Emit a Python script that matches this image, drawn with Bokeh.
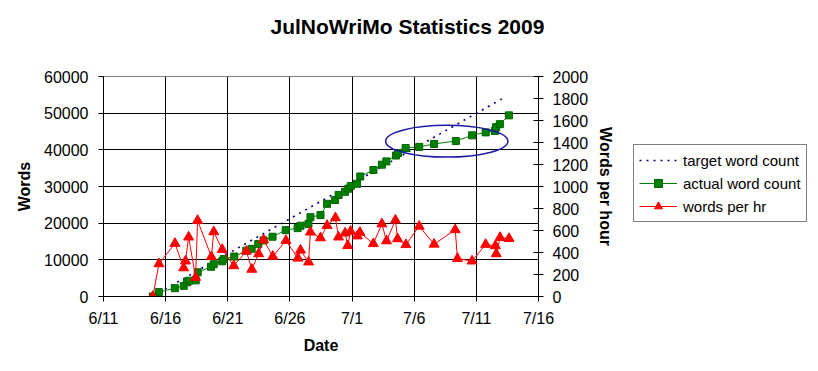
import pandas as pd
from bokeh.plotting import figure
from bokeh.layouts import row
from bokeh.models import (LinearAxis, Range1d, FixedTicker, SingleIntervalTicker,
                          Legend, LegendItem, NumeralTickFormatter, Title)
from bokeh.embed import file_html
from bokeh.resources import INLINE

YEAR = "2009-"

# ---------------- data ----------------
x_tick_labels = ["6/11", "6/16", "6/21", "6/26", "7/1", "7/6", "7/11", "7/16"]

actual_dates = ["06-14 23:17", "06-15 10:48", "06-16 17:46", "06-17 11:02", "06-17 17:31",
                "06-17 21:22", "06-18 10:05", "06-18 13:55", "06-19 15:36", "06-19 20:53",
                "06-20 13:12", "06-20 16:05", "06-21 12:29", "06-22 11:46", "06-22 22:05",
                "06-23 10:48", "06-23 21:07", "06-24 14:24", "06-25 15:50", "06-26 14:53",
                "06-26 20:24", "06-27 11:46", "06-27 15:36", "06-28 11:02", "06-28 23:46",
                "06-29 15:07", "06-29 22:05", "06-30 10:34", "06-30 16:48", "06-30 21:36",
                "07-01 09:36", "07-01 15:50", "07-02 17:17", "07-03 09:36", "07-03 18:14",
                "07-04 12:43", "07-04 16:48", "07-05 07:26", "07-06 09:36", "07-07 14:24",
                "07-09 08:24", "07-10 15:50", "07-11 18:00", "07-12 11:46", "07-12 14:10",
                "07-12 21:22", "07-13 14:53"]
actual_words = [0, 1200, 2270, 2900, 3900,
                4300, 4400, 6600, 8100, 8800,
                9600, 10200, 10900, 12500, 13000,
                14300, 15300, 16300, 18100, 18650,
                19300, 19800, 21640, 22200, 25270,
                26300, 27700, 28550, 29400, 30150,
                30730, 32730, 34500, 35950, 36850,
                38450, 39100, 40500, 40800, 41600,
                42400, 43950, 44760, 45150, 46180,
                47000, 49400]

wph_dates = ["06-14 23:17", "06-15 11:02", "06-16 18:00", "06-17 10:48", "06-17 14:24",
             "06-17 20:24", "06-18 09:50", "06-18 13:41", "06-19 16:19", "06-19 20:53",
             "06-20 13:12", "06-21 11:31", "06-22 12:00", "06-22 22:19", "06-23 11:31",
             "06-23 21:07", "06-24 14:53", "06-25 16:19", "06-26 15:22", "06-26 20:24",
             "06-27 12:00", "06-27 15:36", "06-28 11:02", "06-28 23:46", "06-29 15:50",
             "06-29 21:50", "06-30 10:34", "06-30 15:36", "06-30 21:07", "07-01 10:05",
             "07-01 15:07", "07-02 17:02", "07-03 09:36", "07-03 18:29", "07-04 11:46",
             "07-04 15:50", "07-05 07:55", "07-06 09:36", "07-07 14:24", "07-09 07:12",
             "07-09 11:31", "07-10 15:36", "07-11 18:00", "07-12 12:43", "07-12 14:24",
             "07-12 21:50", "07-13 15:07"]
wph_values = [0, 297, 482, 260, 322,
              540, 173, 691, 362, 588,
              427, 279, 412, 247, 388,
              515, 365, 509, 348, 421,
              313, 585, 533, 645, 715,
              540, 576, 462, 592, 550,
              582, 480, 660, 505, 694,
              524, 471, 638, 475, 607,
              345, 322, 473, 461, 388,
              536, 527]

target_dates = ["06-15 22:34", "06-29 07:26", "07-13 06:00"]
target_words = [2000, 27540, 54270]

series_labels = ["target word count", "actual word count", "words per hr"]

# highlight ellipse (annotation drawn on the chart)
ellipse_center_date = "07-08 14:53"
ellipse_center_words = 42350
ellipse_width_days = 9.84
ellipse_height_words = 8650


def to_dt(lst):
    return pd.to_datetime([YEAR + s for s in lst], format="%Y-%m-%d %H:%M")


tick_dts = pd.to_datetime(["2009/" + t for t in x_tick_labels], format="%Y/%m/%d")
tick_ms = [float(t.value // 10**6) for t in tick_dts]

FONT = "Liberation Sans"
C_TARGET, C_ACT, C_ACT_EDGE, C_WPH = "#000080", "#008000", "#006400", "#FF0000"

p = figure(width=620, height=363, x_axis_type="datetime",
           x_range=Range1d(tick_dts[0], tick_dts[-1]), y_range=Range1d(0, 60000),
           output_backend="svg", toolbar_location=None,
           min_border_left=103, min_border_right=82, min_border_top=76, min_border_bottom=67,
           title="JulNoWriMo Statistics 2009")
p.extra_y_ranges = {"wph": Range1d(0, 2000)}

p.title.text_font = FONT
p.title.text_font_size = "21px"
p.title.text_font_style = "bold"
p.title.text_color = "black"
p.title.align = "left"
p.title.offset = 167
p.title.standoff = 10

# empty spacer title between the chart title and the plot area
p.add_layout(Title(text=" ", text_font=FONT, text_font_size="16px", standoff=15), "above")

p.outline_line_color = "#808080"
p.background_fill_color = "white"
p.border_fill_color = "white"

# axes
xt = FixedTicker(ticks=tick_ms)
p.xaxis.ticker = xt
p.xaxis.major_label_overrides = {ms: lab for ms, lab in zip(tick_ms, x_tick_labels)}
p.xaxis.axis_label = "Date"

yt = SingleIntervalTicker(interval=10000)
p.yaxis.ticker = yt
p.yaxis.formatter = NumeralTickFormatter(format="0")
p.yaxis.axis_label = "Words"

right = LinearAxis(y_range_name="wph", ticker=SingleIntervalTicker(interval=200),
                   axis_label="Words per hour")
p.add_layout(right, "right")

for ax in [p.xaxis[0], p.yaxis[0], right]:
    ax.axis_line_color = "black"
    ax.major_tick_line_color = "black"
    ax.minor_tick_line_color = None
    ax.major_tick_out = 5
    ax.major_tick_in = 0
    ax.major_label_text_font = FONT
    ax.major_label_text_font_size = "16px"
    ax.major_label_text_color = "black"
    ax.axis_label_text_font = FONT
    ax.axis_label_text_font_size = "16px"
    ax.axis_label_text_font_style = "bold"
    ax.axis_label_text_color = "black"

p.yaxis[0].major_label_standoff = 10
p.yaxis[0].axis_label_standoff = 8
p.xaxis[0].major_label_standoff = 8
p.xaxis[0].axis_label_standoff = 7
right.major_tick_in = 5
right.major_label_standoff = 9
right.axis_label_standoff = 6

p.xgrid.ticker = xt
p.ygrid.ticker = yt
for g in [p.xgrid[0], p.ygrid[0]]:
    g.grid_line_color = "black"
    g.grid_line_alpha = 1.0
    g.grid_line_width = 1

# glyphs
p.line(to_dt(target_dates), target_words, line_color=C_TARGET, line_width=1.6, line_dash="2 5")

ad = to_dt(actual_dates)
p.line(ad, actual_words, line_color=C_ACT, line_width=1)
p.scatter(ad, actual_words, marker="square", size=7, fill_color=C_ACT, line_color=C_ACT_EDGE)

wd = to_dt(wph_dates)
p.line(wd, wph_values, line_color=C_WPH, line_width=1, y_range_name="wph")
p.scatter(wd, wph_values, marker="triangle", size=10, fill_color=C_WPH, line_color=C_WPH,
          y_range_name="wph")

ec = pd.to_datetime(YEAR + ellipse_center_date, format="%Y-%m-%d %H:%M")
p.ellipse(x=[ec], y=[ellipse_center_words], width=[ellipse_width_days * 86400000.0],
          height=[ellipse_height_words], fill_color=None, line_color="#1A1AA8", line_width=1.5)

# ---------- legend panel (separate figure so the legend is not clipped) ----------
q = figure(width=190, height=363, x_range=Range1d(0, 1), y_range=Range1d(0, 1),
           output_backend="svg", toolbar_location=None, min_border=0)
q.axis.visible = False
q.grid.visible = False
q.outline_line_color = None
q.border_fill_color = "white"
q.background_fill_color = "white"

nan = [float("nan")]
lt = q.line(nan, nan, line_color=C_TARGET, line_width=1.6, line_dash="2 5")
la = q.line(nan, nan, line_color=C_ACT, line_width=1)
ma = q.scatter(nan, nan, marker="square", size=7, fill_color=C_ACT, line_color=C_ACT_EDGE)
lw = q.line(nan, nan, line_color=C_WPH, line_width=1)
mw = q.scatter(nan, nan, marker="triangle", size=10, fill_color=C_WPH, line_color=C_WPH)

legend = Legend(items=[
    LegendItem(label=series_labels[0], renderers=[lt]),
    LegendItem(label=series_labels[1], renderers=[la, ma]),
    LegendItem(label=series_labels[2], renderers=[lw, mw]),
], location=(13, 74))
legend.border_line_color = "black"
legend.border_line_width = 1
legend.background_fill_color = "white"
legend.background_fill_alpha = 1.0
legend.label_text_font = FONT
legend.label_text_font_size = "15px"
legend.label_text_color = "black"
legend.glyph_width = 38
legend.glyph_height = 20
legend.label_height = 20
legend.label_standoff = 6
legend.padding = 5
legend.spacing = 3
legend.margin = 0
q.add_layout(legend)

layout = row(p, q)
open("out.html", "w").write(file_html(layout, INLINE))
